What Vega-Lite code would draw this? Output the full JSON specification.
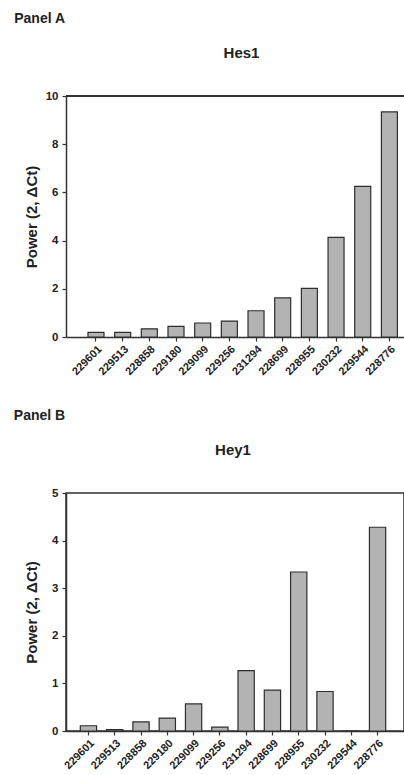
{
  "$schema": "https://vega.github.io/schema/vega-lite/v6.json",
  "padding": {"left": 13, "top": 12, "right": 0, "bottom": 0},
  "background": "white",
  "config": {
    "font": "Liberation Sans",
    "view": {"stroke": null},
    "axis": {
      "grid": false,
      "domainColor": "#333333",
      "domainWidth": 1.5,
      "tickColor": "#333333",
      "tickSize": 4,
      "tickWidth": 1.2,
      "labelFont": "Liberation Sans",
      "labelFontWeight": "bold",
      "labelFontSize": 11,
      "labelColor": "#222222",
      "titleFont": "Liberation Sans",
      "titleFontWeight": "bold",
      "titleFontSize": 15,
      "titleColor": "#222222"
    },
    "title": {"font": "Liberation Sans", "fontWeight": "bold", "color": "#222222"}
  },
  "datasets": {
    "A": [
      {"probe": "229601", "value": 0.19},
      {"probe": "229513", "value": 0.19},
      {"probe": "228858", "value": 0.34},
      {"probe": "229180", "value": 0.44},
      {"probe": "229099", "value": 0.58},
      {"probe": "229256", "value": 0.66},
      {"probe": "231294", "value": 1.09},
      {"probe": "228699", "value": 1.62},
      {"probe": "228955", "value": 2.02},
      {"probe": "230232", "value": 4.13},
      {"probe": "229544", "value": 6.25},
      {"probe": "228776", "value": 9.34}
    ],
    "B": [
      {"probe": "229601", "value": 0.11},
      {"probe": "229513", "value": 0.03},
      {"probe": "228858", "value": 0.19},
      {"probe": "229180", "value": 0.27},
      {"probe": "229099", "value": 0.57},
      {"probe": "229256", "value": 0.08},
      {"probe": "231294", "value": 1.27},
      {"probe": "228699", "value": 0.86},
      {"probe": "228955", "value": 3.34},
      {"probe": "230232", "value": 0.83},
      {"probe": "229544", "value": 0},
      {"probe": "228776", "value": 4.28}
    ]
  },
  "spacing": 32,
  "vconcat": [
    {
      "title": {"text": "Panel A", "anchor": "start", "frame": "bounds", "dx": -10, "offset": 20, "baseline": "top", "fontSize": 14},
      "vconcat": [
        {
          "title": {"text": "Hes1", "anchor": "middle", "frame": "group", "dx": 5, "offset": 29, "baseline": "top", "fontSize": 15},
          "width": 341,
          "height": 241,
          "data": {"name": "A"},
          "layer": [
            {
              "mark": {"type": "bar", "fill": "#b3b3b3", "stroke": "#2e2e2e", "strokeWidth": 1.2},
              "encoding": {
                "x": {
                  "field": "probe", "type": "nominal", "sort": null,
                  "scale": {"paddingInner": 0.4, "paddingOuter": 0.592, "align": 0.696},
                  "axis": {"title": null, "labelAngle": -45, "labelPadding": 2}
                },
                "y": {
                  "field": "value", "type": "quantitative",
                  "scale": {"domain": [0, 10]},
                  "axis": {"values": [0, 2, 4, 6, 8, 10], "title": "Power (2, ΔCt)", "labelFontSize": 11.5, "labelPadding": 4, "titlePadding": 6}
                }
              }
            },
            {
              "mark": {"type": "rule", "color": "#333333", "strokeWidth": 1.5},
              "encoding": {"y": {"datum": 10}}
            }
          ]
        }
      ]
    },
    {
      "title": {"text": "Panel B", "anchor": "start", "frame": "bounds", "dx": -10, "offset": 19, "baseline": "top", "fontSize": 14},
      "vconcat": [
        {
          "title": {"text": "Hey1", "anchor": "middle", "frame": "group", "dx": -2, "offset": 29, "baseline": "top", "fontSize": 15},
          "width": 338,
          "height": 238,
          "data": {"name": "B"},
          "view": {"stroke": "#333333", "strokeWidth": 1.5},
          "mark": {"type": "bar", "fill": "#b3b3b3", "stroke": "#2e2e2e", "strokeWidth": 1.2},
          "encoding": {
            "x": {
              "field": "probe", "type": "nominal", "sort": null,
              "scale": {"paddingInner": 0.38, "paddingOuter": 0.62, "align": 0.439},
              "axis": {"title": null, "labelAngle": -45, "labelPadding": 2}
            },
            "y": {
              "field": "value", "type": "quantitative",
              "scale": {"domain": [0, 5]},
              "axis": {"values": [0, 1, 2, 3, 4, 5], "title": "Power (2, ΔCt)", "labelFontSize": 11.5, "labelPadding": 4, "titlePadding": 12}
            }
          }
        }
      ]
    }
  ]
}
